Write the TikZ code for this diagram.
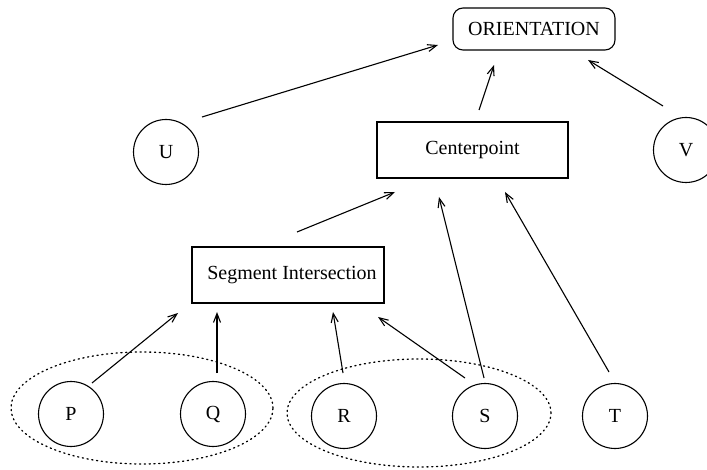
\documentclass[tikz,border=0pt]{standalone}
\usepackage{fontspec}
\setmainfont{Liberation Serif}
\usetikzlibrary{arrows.meta,shapes.geometric}
\begin{document}
\begin{tikzpicture}[x=1pt,y=-1pt,
  every node/.style={font=\fontsize{20}{23}\selectfont},
  ln/.style={line width=1.1pt},
  circ/.style={ln,draw,circle,minimum size=65pt,inner sep=0pt},
  box/.style={ln,draw,rectangle,inner sep=0pt},
  grp/.style={draw,ellipse,line width=1.3pt,dash pattern=on 1.2pt off 3.6pt,line cap=round,inner sep=0pt},
  arr/.style={ln,-{Straight Barb[length=9pt,width=7pt,line width=1.1pt]}}]
\useasboundingbox (0,0) rectangle (707,470);
% groups
\node[grp,minimum width=262pt,minimum height=112pt] (g1) at (142,408) {};
\node[grp,minimum width=264pt,minimum height=108pt] (g2) at (419,413) {};
% boxes
\node[box,rounded corners=10pt,minimum width=162pt,minimum height=42pt] (O) at (534,29) {ORIENTATION};
\node[box,minimum width=191pt,minimum height=56pt] (C) at (472.5,150) {Centerpoint};
\node[box,minimum width=192pt,minimum height=56pt] (SI) at (288,275) {\hspace*{8pt}Segment Intersection};
% circles
\node[circ] (U) at (166,152) {U};
\node[circ] (V) at (686,150) {V};
\node[circ] (P) at (71,414) {P};
\node[circ] (Q) at (213,414) {Q};
\node[circ] (R) at (344,416) {R};
\node[circ] (S) at (485,416) {S};
\node[circ] (T) at (615,416) {T};
% arrows
\draw[arr] ([shift={(36,-35)}]U.center) -- ([shift={(-96,16)}]O.center);
\draw[arr] ([shift={(6.5,-40)}]C.center) -- ([shift={(-40,36)}]O.center);
\draw[arr] ([shift={(-23,-44)}]V.center) -- ([shift={(54,31)}]O.center);
\draw[arr] ([shift={(9,-43)}]SI.center) -- ([shift={(-77.5,42)}]C.center);
\draw[arr] ([shift={(-1,-38)}]S.center) -- ([shift={(-33.5,47)}]C.center);
\draw[arr] ([shift={(-6,-44)}]T.center) -- ([shift={(32.5,42)}]C.center);
\draw[arr] ([shift={(21,-31)}]P.center) -- ([shift={(-110,38)}]SI.center);
\draw[arr] ([shift={(4,-41)}]Q.center) -- ([shift={(-71,37)}]SI.center);
\draw[arr] ([shift={(-1,-43)}]R.center) -- ([shift={(45,37)}]SI.center);
\draw[arr] ([shift={(-20,-38)}]S.center) -- ([shift={(90,42)}]SI.center);
\end{tikzpicture}
\end{document}
